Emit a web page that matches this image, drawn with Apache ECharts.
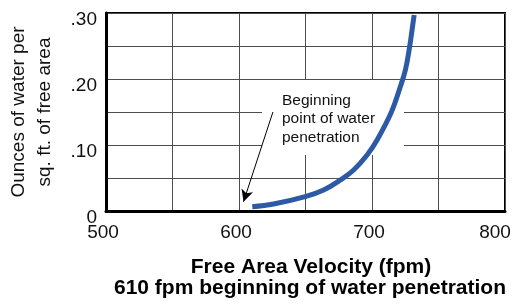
<!DOCTYPE html>
<html>
<head>
<meta charset="utf-8">
<script src="https://cdn.jsdelivr.net/npm/echarts@6/dist/echarts.min.js"></script>
<style>
  html, body { margin: 0; padding: 0; background: #fff; }
  #chart { width: 517px; height: 305px; }
</style>
</head>
<body>
<div id="chart"></div>
<script>
// curve: free area velocity (fpm) vs ounces of water
var velocity = [610, 626, 649.8, 663.6, 676.2, 686.2, 696.3, 703.8, 714.6, 721.3, 725.1, 728.3, 730.1, 731.7];
var water = [0.0065, 0.0106, 0.0217, 0.0318, 0.047, 0.0621, 0.0848, 0.1076, 0.150, 0.1883, 0.2136, 0.2489, 0.2742, 0.297];
var xTicks = [500, 600, 700, 800];
var yTicks = ['0', '.10', '.20', '.30'];
// annotation arrow, from the note to the start of the curve
var arrowFrom = [625.5, 0.150];
var arrowTo = [603.4, 0.014];

var FONT = '"Liberation Sans", Arial, sans-serif';

var chart = echarts.init(document.getElementById('chart'));

var points = velocity.map(function (v, i) { return [v, water[i]]; });

var option = {
    animation: false,
    textStyle: { fontFamily: FONT },
    grid: {
        left: 106, right: 12, top: 13, bottom: 94,
        show: true, borderColor: '#000', borderWidth: 2, backgroundColor: 'transparent'
    },
    xAxis: {
        type: 'value', min: 500, max: 800, interval: 50,
        axisLine: { show: true, lineStyle: { color: '#000', width: 3 } },
        axisTick: { show: false },
        splitLine: { show: true, lineStyle: { color: '#4d4d4d', width: 1 } },
        axisLabel: {
            margin: 12, color: '#111', fontSize: 19, fontFamily: FONT,
            padding: [0, 6, 0, 0],
            formatter: function (v) {
                if (xTicks.indexOf(v) < 0) return '';
                return v === 800 ? '{e|800}' : '' + v;
            },
            rich: { e: { fontSize: 19, fontFamily: FONT, color: '#111', padding: [0, 14, 0, 0] } }
        }
    },
    yAxis: {
        type: 'value', min: 0, max: 0.3, interval: 0.05,
        axisLine: { show: true, lineStyle: { color: '#000', width: 3 } },
        axisTick: { show: false },
        splitLine: { show: true, lineStyle: { color: '#4d4d4d', width: 1 } },
        axisLabel: {
            margin: 9, color: '#111', fontSize: 19, fontFamily: FONT,
            verticalAlign: 'top', lineHeight: 13,
            formatter: function (v) {
                var k = Math.round(v * 100);
                return k % 10 ? '' : yTicks[k / 10];
            }
        }
    },
    series: [{
        type: 'line',
        data: points,
        smooth: 0.4,
        showSymbol: false,
        lineStyle: { color: '#2d5aa5', width: 5 },
        z: 3,
        markLine: {
            silent: true,
            symbol: ['none', 'arrow'],
            symbolSize: [9, 12],
            label: { show: false },
            lineStyle: { color: '#000', width: 1, type: 'solid' },
            data: [[{ coord: arrowFrom }, { coord: arrowTo }]]
        }
    }],
    graphic: [
        // white box behind the note hides the grid lines
        { type: 'rect', z: 1, shape: { x: 262, y: 80, width: 142, height: 75 }, style: { fill: '#fff' } },
        {
            type: 'text', z: 1, x: 282, y: 91,
            style: {
                text: 'Beginning\npoint of water\npenetration',
                font: '15.5px ' + FONT, lineHeight: 18.5, fill: '#111',
                align: 'left', verticalAlign: 'top'
            }
        },
        {
            type: 'text', x: 32, y: 112, rotation: Math.PI / 2,
            style: {
                text: 'Ounces of water per\nsq. ft. of free area',
                font: '19px ' + FONT, lineHeight: 26, fill: '#111',
                align: 'center', verticalAlign: 'middle'
            }
        },
        {
            type: 'text', x: 311, y: 267,
            style: {
                text: 'Free Area Velocity (fpm)',
                font: 'bold 21px ' + FONT, fill: '#000',
                align: 'center', verticalAlign: 'middle'
            }
        },
        {
            type: 'text', x: 310, y: 288,
            style: {
                text: '610 fpm beginning of water penetration',
                font: 'bold 21px ' + FONT, fill: '#000',
                align: 'center', verticalAlign: 'middle'
            }
        }
    ]
};

chart.setOption(option);
</script>
</body>
</html>
